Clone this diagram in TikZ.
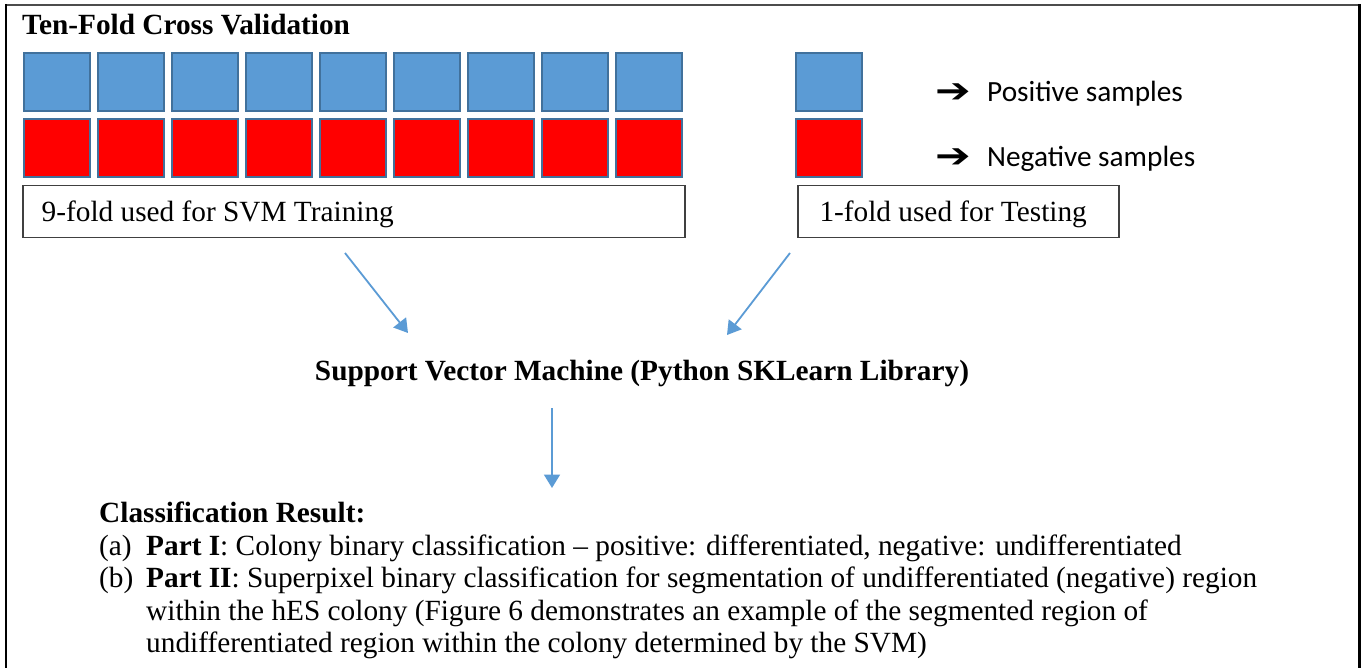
\documentclass[tikz,border=0pt]{standalone}
\usepackage{fontspec}
\setmainfont{Liberation Serif}
\newfontfamily\calibrifont{Carlito}
\newfontfamily\symfont{DejaVu Sans}
\usetikzlibrary{arrows.meta,calc}

\definecolor{foldblue}{HTML}{5B9BD5}
\definecolor{foldedge}{HTML}{41719C}
\definecolor{foldred}{HTML}{FF0000}
\definecolor{boxedge}{HTML}{404040}

\tikzset{
  txt/.style={inner sep=0pt, anchor=base west, font=\fontsize{29.3}{32.5}\selectfont},
  btxt/.style={txt, font=\fontsize{29.3}{32.5}\selectfont\bfseries},
  poscell/.style={draw=foldedge, line width=2pt, fill=foldblue, minimum width=66pt, minimum height=58pt, inner sep=0pt, outer sep=0pt},
  negcell/.style={poscell, fill=foldred},
  foldbox/.style={draw=boxedge, line width=1.5pt, fill=white, inner sep=0pt, anchor=north west},
  flow/.style={draw=foldblue, line width=1.8pt, -{Triangle[length=13.5pt,width=16pt]}},
  legarrow/.style={inner sep=0pt, xscale=1.25, font=\symfont\bfseries\fontsize{34}{34}\selectfont},
}

\begin{document}
\begin{tikzpicture}[x=1pt, y=-1pt]
  \useasboundingbox (0,0) rectangle (1365,668);
  \fill[white] (0,0) rectangle (1365,668);

  % outer frame (open at the bottom)
  \draw[black!70, line width=2pt] (5,5) -- (1359.5,5);
  \draw[black, line width=2.5pt] (6,4) -- (6,670);
  \draw[black, line width=2.5pt] (1359.5,4) -- (1359.5,670);

  % title
  \node[btxt] (title) at (22,35) {Ten-Fold Cross Validation};

  % nine training folds
  \foreach \i in {0,...,8} {
    \node[poscell] (p\i) at ({56.7+74*\i},81.7) {};
    \node[negcell] (n\i) at ({56.7+74*\i},148.3) {};
  }
  % testing fold
  \node[poscell] (pt) at (829,81.7) {};
  \node[negcell] (nt) at (829,148.3) {};

  % legend
  \node[legarrow] (la1) at (953,93) {➔};
  \node[legarrow] (la2) at (953,158) {➔};
  \node[txt, font=\calibrifont\fontsize{29.3}{32.5}\selectfont] (pos) at (987,102) {Positive samples};
  \node[txt, font=\calibrifont\fontsize{29.3}{32.5}\selectfont] (neg) at (987,167) {Negative samples};

  % fold labels
  \node[foldbox, minimum width=662pt, minimum height=51.7pt] (train) at (22,185) {};
  \node[txt] (traintxt) at (41.5,222) {9-fold used for SVM Training};
  \node[foldbox, minimum width=321pt, minimum height=51.7pt] (test) at (797.3,185) {};
  \node[txt] (testtxt) at (819.3,222) {1-fold used for Testing};

  % classifier
  \node[btxt, anchor=base] (svm) at (642,380) {Support Vector Machine (Python SKLearn Library)};

  % connectors
  \coordinate (trainout) at (345,253);
  \coordinate (testout) at (790,253);
  \coordinate (svmin1) at (408,333);
  \coordinate (svmin2) at (727,335);
  \coordinate (svmout) at (552,408);
  \coordinate (resin) at (552,488);
  \draw[flow] (trainout) -- (svmin1);
  \draw[flow] (testout) -- (svmin2);
  \draw[flow] (svmout) -- (resin);

  % results
  \node[btxt] (res) at (99,522) {Classification Result:};
  \node[txt] (la) at (99,555) {(a)};
  \node[txt] (lia) at (146,555) {\textbf{Part I}: Colony binary classification -- positive: differentiated, negative: undifferentiated};
  \node[txt] (lb) at (99,587.5) {(b)};
  \node[txt] (lib) at (146,587.5) {\textbf{Part II}: Superpixel binary classification for segmentation of undifferentiated (negative) region};
  \node[txt] (lib2) at (146,620) {within the hES colony (Figure 6 demonstrates an example of the segmented region of};
  \node[txt] (lib3) at (146,652.5) {undifferentiated region within the colony determined by the SVM)};
\end{tikzpicture}
\end{document}
